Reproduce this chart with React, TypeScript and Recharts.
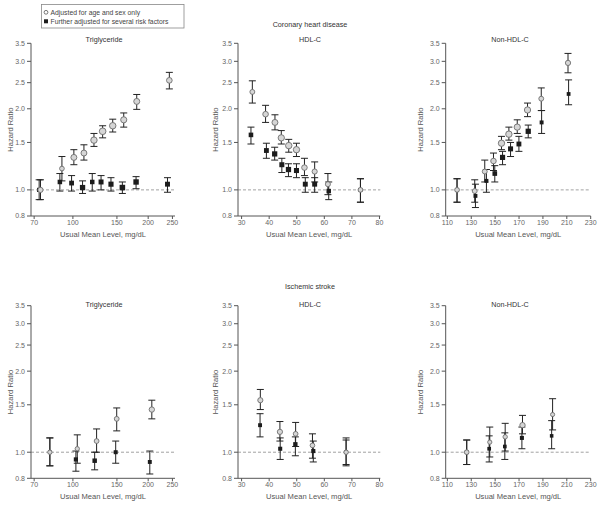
import React from 'react';
import { ScatterChart, Scatter, XAxis, YAxis, ErrorBar, ReferenceLine } from 'recharts';

// Each point: [usual mean level (mg/dL), hazard ratio, lower 95% CI, upper 95% CI]
type Pt = [number, number, number, number];

// Coronary heart disease — Triglyceride
const chdTgAge: Pt[] = [
  [74.2, 1.0, 0.92, 1.09], [90.4, 1.2, 1.08, 1.33], [100.9, 1.32, 1.24, 1.41], [110.7, 1.37, 1.29, 1.47],
  [121.4, 1.53, 1.45, 1.62], [131.5, 1.65, 1.56, 1.73], [144.3, 1.73, 1.64, 1.83], [159.7, 1.82, 1.71, 1.93],
  [180, 2.13, 1.99, 2.26], [243, 2.55, 2.37, 2.73],
];
const chdTgAdj: Pt[] = [
  [73.3, 1.0, 0.92, 1.09], [88.7, 1.07, 0.99, 1.15], [98.8, 1.06, 0.99, 1.13], [109.3, 1.02, 0.97, 1.08],
  [119.5, 1.07, 0.99, 1.15], [129.6, 1.07, 1.0, 1.13], [142, 1.05, 0.99, 1.11], [157.7, 1.02, 0.97, 1.07],
  [178.9, 1.07, 1.01, 1.12], [238.9, 1.05, 0.98, 1.11],
];
// Coronary heart disease — HDL-C
const chdHdlAge: Pt[] = [
  [33.9, 2.31, 2.1, 2.54], [38.7, 1.91, 1.78, 2.06], [42.1, 1.78, 1.67, 1.9], [44.4, 1.56, 1.48, 1.66],
  [47.1, 1.46, 1.38, 1.54], [49.9, 1.41, 1.33, 1.49], [52.8, 1.21, 1.13, 1.31], [56.5, 1.17, 1.07, 1.27],
  [61.3, 1.05, 0.96, 1.15], [73.1, 1.0, 0.9, 1.1],
];
const chdHdlAdj: Pt[] = [
  [33.4, 1.6, 1.48, 1.71], [39.0, 1.4, 1.31, 1.49], [42.0, 1.36, 1.29, 1.44], [44.6, 1.24, 1.16, 1.31],
  [47.0, 1.19, 1.12, 1.25], [49.9, 1.18, 1.11, 1.25], [53.1, 1.05, 0.98, 1.11], [56.5, 1.05, 0.98, 1.11],
  [61.6, 0.99, 0.92, 1.07], [73.1, 1.0, 0.9, 1.1],
];
// Coronary heart disease — Non-HDL-C
const chdNonAge: Pt[] = [
  [118.1, 1.0, 0.9, 1.1], [132.9, 0.99, 0.9, 1.09], [141.3, 1.17, 1.07, 1.29], [148.6, 1.28, 1.18, 1.37],
  [155.3, 1.49, 1.41, 1.58], [161.5, 1.61, 1.53, 1.71], [168.5, 1.71, 1.62, 1.82], [177.1, 1.98, 1.87, 2.1],
  [188.6, 2.18, 1.97, 2.39], [211, 2.96, 2.72, 3.21],
];
const chdNonAdj: Pt[] = [
  [118.1, 1.0, 0.9, 1.1], [133.5, 0.95, 0.86, 1.05], [142.7, 1.08, 0.98, 1.19], [149.7, 1.15, 1.07, 1.23],
  [156.2, 1.32, 1.24, 1.39], [162.9, 1.42, 1.33, 1.5], [169.9, 1.48, 1.39, 1.58], [177.7, 1.65, 1.56, 1.74],
  [188.9, 1.78, 1.62, 1.97], [211.5, 2.27, 2.07, 2.56],
];
// Ischemic stroke — Triglyceride
const strTgAge: Pt[] = [
  [80.9, 1.0, 0.89, 1.13], [104.1, 1.03, 0.91, 1.16], [124.4, 1.1, 1.0, 1.22], [149.7, 1.33, 1.2, 1.46], [206.8, 1.44, 1.33, 1.56],
];
const strTgAdj: Pt[] = [
  [80.9, 1.0, 0.89, 1.13], [102.8, 0.94, 0.85, 1.01], [122.2, 0.93, 0.86, 1.0], [148.3, 1.0, 0.91, 1.1], [203, 0.92, 0.83, 1.01],
];
// Ischemic stroke — HDL-C
const strHdlAge: Pt[] = [
  [36.8, 1.56, 1.44, 1.71], [43.9, 1.19, 1.1, 1.3], [49.6, 1.17, 1.05, 1.29], [55.7, 1.06, 0.95, 1.17], [67.9, 1.0, 0.9, 1.13],
];
const strHdlAdj: Pt[] = [
  [36.7, 1.26, 1.14, 1.39], [44.0, 1.03, 0.94, 1.13], [49.5, 1.07, 0.97, 1.14], [56.0, 1.01, 0.92, 1.1], [67.9, 1.0, 0.89, 1.11],
];
// Ischemic stroke — Non-HDL-C
const strNonAge: Pt[] = [
  [126.2, 1.0, 0.9, 1.11], [145.5, 1.09, 0.96, 1.24], [158.4, 1.14, 1.01, 1.28], [172.9, 1.26, 1.17, 1.37], [198.1, 1.38, 1.21, 1.58],
];
const strNonAdj: Pt[] = [
  [126.2, 1.0, 0.9, 1.11], [145.0, 1.03, 0.92, 1.15], [158.1, 1.05, 0.94, 1.18], [172.4, 1.13, 1.03, 1.24], [197.3, 1.15, 1.03, 1.31],
];

const yTicks = [0.8, 1.0, 1.5, 2.0, 2.5, 3.0, 3.5];
const tgTicks = [70, 100, 150, 200, 250];
const hdlTicks = [30, 40, 50, 60, 70, 80];
const nonTicks = [110, 130, 150, 170, 190, 210, 230];

const legendLabels = ['Adjusted for age and sex only', 'Further adjusted for several risk factors'];
const outcomeTitles = ['Coronary heart disease', 'Ischemic stroke'];
const lipidTitles = ['Triglyceride', 'HDL-C', 'Non-HDL-C'];
const xTitle = 'Usual Mean Level, mg/dL';
const yTitle = 'Hazard Ratio';

const FONT = '"Liberation Sans", Arial, Helvetica, sans-serif';

const toRows = (pts: Pt[]) =>
  pts.map(([x, y, lo, hi]) => ({ x, y, err: [y - lo, hi - y], ciw: Math.log(hi / lo) }));

const CircleShape = (props: any) => {
  const { cx, cy, payload } = props;
  if (cx == null || cy == null) return null;
  const r = Math.max(1.8, Math.min(3.6, 1.07 / Math.sqrt(payload.ciw)));
  return <circle cx={cx} cy={cy} r={r} fill="#d6d6d6" stroke="#6e6e6e" strokeWidth={0.9} />;
};

const SquareShape = (props: any) => {
  const { cx, cy, payload } = props;
  if (cx == null || cy == null) return null;
  const h = Math.max(1.6, Math.min(3.0, 0.87 / Math.sqrt(payload.ciw)));
  return <rect x={cx - h} y={cy - h} width={2 * h} height={2 * h} fill="#1c1c1c" />;
};

type PanelProps = {
  left: number;
  top: number;
  height: number;
  margin: { top: number; right: number; bottom: number; left: number };
  xAxisHeight: number;
  xLog: boolean;
  xDomain: [number, number];
  xTicks: number[];
  age: Pt[];
  adj: Pt[];
  yLabelOffset: number;
  xLabelOffset: number;
};

function Panel(p: PanelProps) {
  const tickStyle = { fontSize: 7, fill: '#666', fontFamily: FONT };
  return (
    <div style={{ position: 'absolute', left: p.left, top: p.top }}>
      <ScatterChart width={200} height={p.height} margin={p.margin}>
        <XAxis
          type="number"
          dataKey="x"
          scale={p.xLog ? 'log' : 'linear'}
          domain={p.xDomain}
          ticks={p.xTicks}
          allowDataOverflow
          interval={0}
          height={p.xAxisHeight}
          tick={tickStyle}
          tickSize={3}
          tickMargin={1}
          stroke="#555"
          label={{
            value: xTitle,
            position: 'insideBottom',
            offset: p.xLabelOffset,
            style: { fontSize: 7.6, fill: '#555', fontFamily: FONT },
          }}
        />
        <YAxis
          type="number"
          dataKey="y"
          scale="log"
          domain={[0.8, 3.5]}
          ticks={yTicks}
          allowDataOverflow
          interval={0}
          width={30}
          tick={tickStyle}
          tickSize={4}
          tickMargin={2}
          stroke="#555"
          tickFormatter={(v: number) => v.toFixed(1)}
          label={{
            value: yTitle,
            angle: -90,
            position: 'insideLeft',
            offset: p.yLabelOffset,
            style: { fontSize: 7.6, fill: '#555', fontFamily: FONT, textAnchor: 'middle' },
          }}
        />
        <ReferenceLine y={1} stroke="#8a8a8a" strokeWidth={0.8} strokeDasharray="3 2" />
        <Scatter data={toRows(p.adj)} shape={SquareShape} isAnimationActive={false}>
          <ErrorBar dataKey="err" direction="y" width={3.5} stroke="#222" strokeWidth={1} />
        </Scatter>
        <Scatter data={toRows(p.age)} shape={CircleShape} isAnimationActive={false}>
          <ErrorBar dataKey="err" direction="y" width={3.5} stroke="#222" strokeWidth={1} />
        </Scatter>
      </ScatterChart>
    </div>
  );
}

const cols = [
  { left: 0, mLeft: 1, mRight: 25, xLog: true, xDomain: [68, 256] as [number, number], xTicks: tgTicks, yOff: 9, titleX: 104 },
  { left: 200, mLeft: 8, mRight: 19.7, xLog: false, xDomain: [28.7, 80.3] as [number, number], xTicks: hdlTicks, yOff: 7.5, titleX: 310 },
  { left: 400, mLeft: 15.7, mRight: 9.3, xLog: false, xDomain: [108.6, 230] as [number, number], xTicks: nonTicks, yOff: 5, titleX: 510 },
];

const rows = [
  { top: 0, height: 250, mTop: 43.3, mBottom: 4, xAxisHeight: 30, xLabelOffset: 9, data: [[chdTgAge, chdTgAdj], [chdHdlAge, chdHdlAdj], [chdNonAge, chdNonAdj]], titleY: 42, outcomeY: 26.5 },
  { top: 260, height: 245, mTop: 45.7, mBottom: 1.7, xAxisHeight: 25, xLabelOffset: 4, data: [[strTgAge, strTgAdj], [strHdlAge, strHdlAdj], [strNonAge, strNonAdj]], titleY: 307, outcomeY: 289 },
];

export default function App() {
  return (
    <div style={{ position: 'absolute', left: 0, top: 0, width: 600, height: 507, background: '#fff', overflow: 'hidden' }}>
      {rows.map((r, ri) =>
        cols.map((c, ci) => (
          <Panel
            key={`${ri}-${ci}`}
            left={c.left}
            top={r.top}
            height={r.height}
            margin={{ top: r.mTop, right: c.mRight, bottom: r.mBottom, left: c.mLeft }}
            xAxisHeight={r.xAxisHeight}
            xLog={c.xLog}
            xDomain={c.xDomain}
            xTicks={c.xTicks}
            age={r.data[ci][0]}
            adj={r.data[ci][1]}
            yLabelOffset={c.yOff}
            xLabelOffset={r.xLabelOffset}
          />
        ))
      )}
      <svg width={600} height={507} style={{ position: 'absolute', left: 0, top: 0, pointerEvents: 'none' }}>
        {rows.map((r, ri) => (
          <g key={ri}>
            <text x={310} y={r.outcomeY} textAnchor="middle" fontSize={7.2} fill="#333" fontFamily={FONT}>
              {outcomeTitles[ri]}
            </text>
            {cols.map((c, ci) => (
              <text key={ci} x={c.titleX} y={r.titleY} textAnchor="middle" fontSize={7.2} fill="#333" fontFamily={FONT}>
                {lipidTitles[ci]}
              </text>
            ))}
          </g>
        ))}
        <rect x={41.5} y={4.5} width={142.5} height={23.5} fill="#fff" stroke="#888" strokeWidth={0.8} />
        <circle cx={46} cy={12.3} r={1.9} fill="#fff" stroke="#555" strokeWidth={0.8} />
        <text x={50.5} y={14.6} fontSize={6.8} fill="#444" fontFamily={FONT}>{legendLabels[0]}</text>
        <rect x={44} y={19.3} width={4} height={4} fill="#1c1c1c" />
        <text x={50.5} y={23.6} fontSize={6.8} fill="#444" fontFamily={FONT}>{legendLabels[1]}</text>
      </svg>
    </div>
  );
}
